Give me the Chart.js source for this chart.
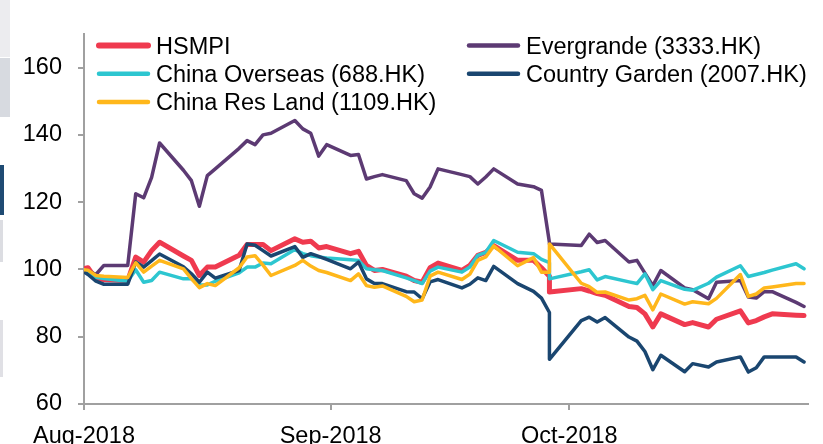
<!DOCTYPE html>
<html>
<head>
<meta charset="utf-8">
<script src="https://cdn.jsdelivr.net/npm/chart.js@4.4.0/dist/chart.umd.min.js"></script>
<style>
  body { margin: 0; background: #fff; overflow: hidden; }
  #wrap { position: relative; width: 823px; height: 444px; overflow: hidden; }
  #wrap canvas { position: absolute; left: 0; top: 0; }
  .edge { position: absolute; left: 0; }
</style>
</head>
<body>
<div id="wrap">
  <div class="edge" style="top:0;height:57px;width:10px;background:#ececef"></div>
  <div class="edge" style="top:58px;height:59px;width:10px;background:#d7dae0"></div>
  <div class="edge" style="top:165px;height:50px;width:4px;background:#1f4b73"></div>
  <div class="edge" style="top:220px;height:42px;width:3px;background:#dcdde2"></div>
  <div class="edge" style="top:320px;height:57px;width:3px;background:#e0e0e5"></div>
  <canvas id="myChart" width="823" height="456"></canvas>
</div>
<script>
// trading days (mm-dd, 2018); 09-28 appears twice, the picture shows a vertical step there
var dates = [
  "07-31","08-01","08-02","08-03","08-06","08-07","08-08","08-09","08-10",
  "08-13","08-14","08-15","08-16","08-17","08-20","08-21","08-22","08-23","08-24",
  "08-27","08-28","08-29","08-30","08-31",
  "09-03","09-04","09-05","09-06","09-07","09-10","09-11","09-12","09-13","09-14",
  "09-17","09-18","09-19","09-20","09-21","09-24","09-26","09-27","09-28","09-28",
  "10-02","10-03","10-04","10-05","10-08","10-09","10-10","10-11","10-12",
  "10-15","10-16","10-18","10-19","10-22","10-23","10-24","10-25","10-26","10-29","10-30"
];

var hsmpi = [100,100.5,97.2,97.0,96.7,103.7,102.2,105.6,108.1,
  104.0,102.7,98.2,100.7,100.7,104.2,107.4,107.4,107.4,105.6,
  109.1,108.1,108.4,106.4,106.8,
  104.7,105.4,101.2,99.7,100.0,98.0,96.7,96.2,100.5,101.9,
  99.7,101.2,104.2,105.1,107.1,102.7,102.7,100.5,98.0,93.3,
  94.3,93.6,92.8,92.3,89.0,88.7,86.8,82.9,86.8,
  83.6,84.2,82.9,85.2,87.7,84.1,84.8,85.9,86.8,86.4,86.3];

var evergrande = [100,99.7,98.5,101.2,101.2,122.5,121.3,127.4,137.6,
  129.5,126.4,118.8,127.9,129.9,136.0,138.3,137.1,140.0,140.5,
  144.3,141.8,140.5,133.7,137.1,
  133.9,134.2,126.9,127.6,128.2,126.4,122.5,121.2,124.5,129.9,
  128.2,127.6,125.4,127.5,129.9,125.4,124.6,123.5,108.0,107.6,
  107.1,110.5,108.0,108.6,102.2,102.7,98.9,95.2,99.7,
  94.5,94.0,91.3,96.2,96.7,91.8,91.5,93.4,93.4,90.2,89.0];

var chinaOverseas = [100,99.3,97.7,97.3,96.5,99.9,96.2,96.7,99.2,
  97.2,97.2,95.4,95.4,96.5,99.0,100.7,100.7,101.9,101.7,
  105.9,104.7,104.1,103.7,103.4,
  102.9,102.7,100.2,99.9,99.7,97.5,96.7,95.8,99.5,100.7,
  99.2,100.7,104.2,105.1,108.6,105.1,104.7,103.0,102.0,97.2,
  99.3,99.9,96.9,97.9,96.3,95.8,98.7,94.0,96.7,
  94.1,93.8,95.9,97.7,101.1,97.9,98.5,99.1,99.8,101.7,100.2];

var countryGarden = [100,98.5,96.5,95.6,95.6,102.2,100.7,102.6,104.6,
  100.8,98.7,96.2,99.2,97.4,99.7,107.6,107.2,105.6,104.0,
  106.8,103.6,104.7,103.9,103.0,
  100.2,102.2,97.2,95.8,95.8,93.4,93.3,91.3,96.3,97.0,
  94.5,95.6,97.5,96.7,100.9,95.8,93.5,91.5,87.2,73.3,
  84.8,85.8,84.4,85.7,79.9,78.7,75.6,70.2,74.5,
  69.6,72.0,71.0,72.5,74.0,69.5,70.8,74.0,74.0,74.0,72.5];

var chinaResLand = [100,99.8,98.2,98.0,97.6,102.0,99.2,101.0,102.7,
  100.2,97.3,94.6,95.8,95.2,100.5,103.7,104.1,101.3,98.2,
  101.2,102.7,101.0,99.7,99.1,
  96.7,98.7,95.2,94.7,95.1,92.0,90.4,90.9,98.0,99.2,
  97.0,98.6,102.7,103.7,107.0,101.1,103.5,99.2,99.2,107.6,
  95.9,94.9,93.2,93.3,90.9,91.3,92.3,88.0,92.7,
  89.7,90.4,89.8,91.4,98.5,92.0,92.7,94.5,94.8,95.8,95.8];

// legend order as in the picture (row by row, two columns)
var seriesNames = ["HSMPI", "Evergrande (3333.HK)", "China Overseas (688.HK)",
  "Country Garden (2007.HK)", "China Res Land (1109.HK)"];
var seriesValues = [hsmpi, evergrande, chinaOverseas, countryGarden, chinaResLand];
var seriesColors = ["#ef3a4f", "#5c3a73", "#2dc6d0", "#1a4670", "#ffb71b"];
var seriesWidths = [5, 3.5, 3.5, 3.5, 3.5];

var monthTicks = [0, 31, 61];            // days after 1 Aug 2018
var tickLabels = ["Aug-2018", "Sep-2018", "Oct-2018"];
var yTicks = [60, 80, 100, 120, 140, 160];

var FONT = '"Liberation Sans", Arial, sans-serif';
var AXIS = '#a0a0a0';

// day number of each date, points sit in the middle of their day
var base = Date.UTC(2018, 7, 1);
var xDays = dates.map(function (s) {
    var p = s.split('-');
    return (Date.UTC(2018, Number(p[0]) - 1, Number(p[1])) - base) / 864e5 + 0.5;
});

var datasets = seriesNames.map(function (name, i) {
    return {
        label: name,
        data: seriesValues[i].map(function (v, j) { return { x: xDays[j], y: v }; }),
        borderColor: seriesColors[i],
        backgroundColor: seriesColors[i],
        borderWidth: seriesWidths[i],
        pointRadius: 0,
        tension: 0,
        fill: false,
        clip: 0,
        borderJoinStyle: 'round',
        borderCapStyle: 'round',
        order: seriesNames.length - i
    };
});

var excelLegend = {
    id: 'excelLegend',
    afterDraw: function (chart) {
        var ctx = chart.ctx;
        ctx.save();
        ctx.font = '23.5px ' + FONT;
        ctx.fillStyle = '#000';
        ctx.textBaseline = 'alphabetic';
        ctx.lineCap = 'round';
        chart.data.datasets.forEach(function (ds, i) {
            var x = [97, 467][i % 2];
            var y = 45.5 + Math.floor(i / 2) * 28.3;
            ctx.strokeStyle = ds.borderColor;
            ctx.lineWidth = ds.borderWidth + 1;
            ctx.beginPath();
            ctx.moveTo(x + 2, y);
            ctx.lineTo(x + 51, y);
            ctx.stroke();
            ctx.fillText(ds.label, x + 59, y + 8);
        });
        ctx.restore();
    }
};

var ctx = document.getElementById('myChart').getContext('2d');
var myChart = new Chart(ctx, {
    type: 'line',
    data: { datasets: datasets },
    plugins: [excelLegend],
    options: {
        responsive: false,
        animation: false,
        layout: { padding: { left: 0, top: 34, right: 15, bottom: 0 } },
        plugins: {
            legend: { display: false },
            tooltip: { enabled: false }
        },
        scales: {
            x: {
                type: 'linear',
                min: 0,
                max: 91,
                afterBuildTicks: function (scale) {
                    scale.ticks = monthTicks.map(function (v) { return { value: v }; });
                },
                afterFit: function (scale) { scale.height = 52; },
                grid: { drawOnChartArea: false, drawTicks: true, tickLength: 6, color: AXIS, lineWidth: 2 },
                border: { color: AXIS, width: 2 },
                ticks: {
                    autoSkip: false,
                    maxRotation: 0,
                    padding: 12,
                    color: '#000',
                    font: { size: 23.5, family: FONT },
                    callback: function (v, i) { return tickLabels[i]; }
                }
            },
            y: {
                min: 60,
                max: 170,
                afterBuildTicks: function (scale) {
                    scale.ticks = yTicks.map(function (v) { return { value: v }; });
                },
                afterFit: function (scale) { scale.width = 84; },
                grid: { drawOnChartArea: false, drawTicks: true, tickLength: 6, color: AXIS, lineWidth: 2 },
                border: { color: AXIS, width: 2 },
                ticks: {
                    padding: 16,
                    color: '#000',
                    font: { size: 23.5, family: FONT }
                }
            }
        }
    }
});
</script>
</body>
</html>
